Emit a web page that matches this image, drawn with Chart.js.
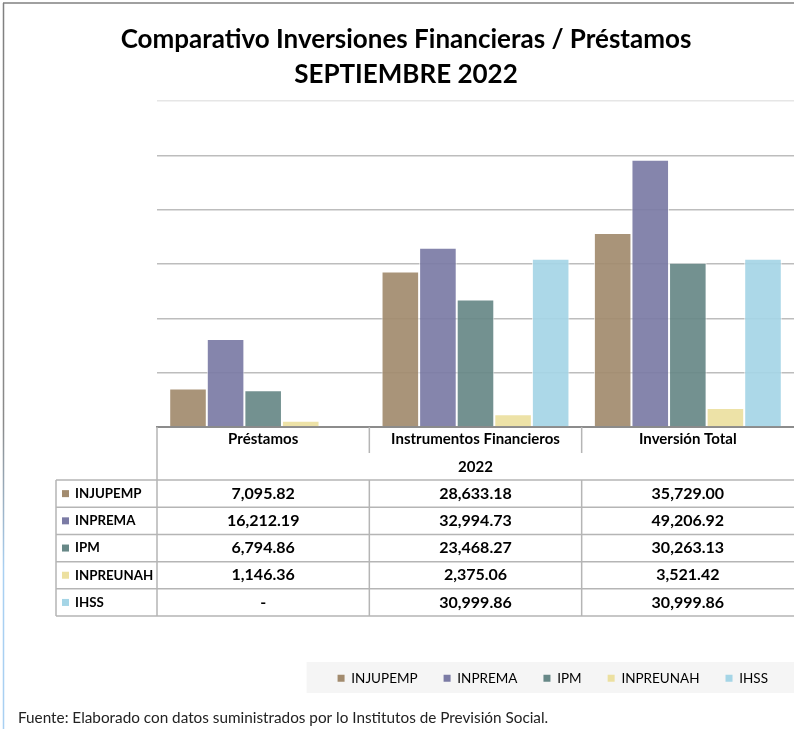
<!DOCTYPE html>
<html><head><meta charset="utf-8">
<script src="https://cdn.jsdelivr.net/npm/chart.js@4/dist/chart.umd.min.js"></script>
<style>html,body{margin:0;padding:0;background:#fff}canvas{display:block}</style>
</head><body>
<canvas id="c" width="794" height="729"></canvas>
<script>
const categories = ['Préstamos', 'Instrumentos Financieros', 'Inversión Total'];
const yearLabel = '2022';
const seriesNames = ['INJUPEMP', 'INPREMA', 'IPM', 'INPREUNAH', 'IHSS'];
const injupemp = [7095.82, 28633.18, 35729.00];
const inprema = [16212.19, 32994.73, 49206.92];
const ipm = [6794.86, 23468.27, 30263.13];
const inpreunah = [1146.36, 2375.06, 3521.42];
const ihss = [null, 30999.86, 30999.86];
const seriesValues = [injupemp, inprema, ipm, inpreunah, ihss];
const seriesColors = ['#a28b6e', '#7b7ba5', '#678887', '#ece0a0', '#a5d5e6'];
const titleLines = ['Comparativo Inversiones Financieras / Préstamos', 'SEPTIEMBRE 2022'];
const sourceNote = 'Fuente: Elaborado con datos suministrados por lo Institutos de Previsión Social.';
const yMax = 60000, yStep = 10000;

const FONT = "Lato, 'DejaVu Sans Condensed', sans-serif";
const FONT_REG = "Lato, 'Noto Sans', sans-serif";

function alpha(hex, a) {
  const n = parseInt(hex.slice(1), 16);
  return `rgba(${n >> 16},${(n >> 8) & 255},${n & 255},${a})`;
}
function fmt(v) {
  if (v === null || v === undefined) return '-';
  return v.toLocaleString('en-US', {minimumFractionDigits: 2, maximumFractionDigits: 2});
}

const framePlugin = {
  id: 'frame',
  beforeDraw(chart) {
    const {ctx, width, height} = chart;
    ctx.save();
    ctx.fillStyle = '#fff';
    ctx.fillRect(0, 0, width, height);
    ctx.strokeStyle = '#808080';
    ctx.lineWidth = 1.5;
    ctx.beginPath(); ctx.moveTo(3, 3); ctx.lineTo(width, 3); ctx.stroke();
    const g = ctx.createLinearGradient(0, 0, 0, height);
    g.addColorStop(0, '#808080');
    g.addColorStop(0.58, '#8a8a8a');
    g.addColorStop(0.78, '#a9d0f2');
    g.addColorStop(1, '#a9d0f2');
    ctx.strokeStyle = g;
    ctx.beginPath(); ctx.moveTo(3.5, 3); ctx.lineTo(3.5, height); ctx.stroke();
    const lg = chart.legend;
    if (lg && lg.legendHitBoxes && lg.legendHitBoxes.length) {
      const l = lg.legendHitBoxes[0].left - 31;
      ctx.fillStyle = '#f5f5f5';
      ctx.fillRect(l, lg.bottom - 33, width - l, 31);
    }
    ctx.restore();
  }
};

const tablePlugin = {
  id: 'dataTable',
  afterDraw(chart) {
    const {ctx, chartArea, scales: {x}} = chart;
    const top = chartArea.bottom;
    const headerH = 26;
    const rowsTop = top + 53;
    const rowH = 27.2;
    const leftCol = 56;
    const right = chart.width;
    const n = categories.length;
    const step = x.getPixelForValue(1) - x.getPixelForValue(0);
    const bounds = [];
    for (let i = 0; i <= n; i++) bounds.push(x.getPixelForValue(0) - step / 2 + i * step);
    const bottom = rowsTop + seriesNames.length * rowH;
    ctx.save();
    ctx.strokeStyle = '#b5b5b5';
    ctx.lineWidth = 1.5;
    ctx.beginPath();
    ctx.moveTo(bounds[0], top); ctx.lineTo(bounds[0], bottom);
    for (let i = 1; i < n; i++) {
      ctx.moveTo(bounds[i], top); ctx.lineTo(bounds[i], top + headerH);
      ctx.moveTo(bounds[i], rowsTop); ctx.lineTo(bounds[i], bottom);
    }
    ctx.moveTo(leftCol, rowsTop); ctx.lineTo(leftCol, bottom);
    for (let k = 0; k <= seriesNames.length; k++) {
      const yy = rowsTop + k * rowH;
      ctx.moveTo(leftCol, yy); ctx.lineTo(right, yy);
    }
    ctx.stroke();
    ctx.fillStyle = '#000';
    ctx.textAlign = 'center';
    ctx.textBaseline = 'middle';
    ctx.font = `bold 15px ${FONT}`;
    ctx.fillText(yearLabel, (bounds[0] + bounds[n]) / 2, top + 40);
    seriesNames.forEach((name, s) => {
      const cy = rowsTop + s * rowH + rowH / 2;
      ctx.fillStyle = seriesColors[s];
      ctx.fillRect(leftCol + 6, cy - 3.5, 7, 7);
      ctx.fillStyle = '#000';
      ctx.textAlign = 'left';
      ctx.font = `bold 13.3px ${FONT}`;
      ctx.fillText(name, leftCol + 19, cy);
      ctx.textAlign = 'center';
      ctx.font = `bold 16px ${FONT}`;
      seriesValues[s].forEach((v, i) => {
        ctx.fillText(fmt(v), x.getPixelForValue(i), cy);
      });
    });
    ctx.restore();
  }
};

const datasets = seriesNames.map((name, s) => ({
  label: name,
  data: seriesValues[s],
  backgroundColor: alpha(seriesColors[s], 0.92),
  borderColor: 'rgba(255,255,255,0.75)',
  borderWidth: 1,
  categoryPercentage: 0.885,
  barPercentage: 1.0
}));

new Chart(document.getElementById('c'), {
  type: 'bar',
  data: {labels: categories, datasets},
  plugins: [framePlugin, tablePlugin],
  options: {
    responsive: false,
    animation: false,
    layout: {padding: {left: 18, right: 0, top: 4, bottom: 2}},
    scales: {
      x: {
        grid: {display: true, drawOnChartArea: false, drawTicks: false},
        border: {display: true, color: '#8c8c8c', width: 2},
        ticks: {color: '#000', font: {family: FONT, size: 15, weight: 'bold'}, padding: 3.5, maxRotation: 0, autoSkip: false},
        afterFit(scale) { scale.height = 218.5; }
      },
      y: {
        min: 0, max: yMax,
        ticks: {display: false, stepSize: yStep},
        grid: {
          drawTicks: false,
          lineWidth: 1.5,
          color: (c) => (c.tick && c.tick.value === yMax) ? '#e6e6e6' : '#bdbdbd'
        },
        border: {display: false},
        afterFit(scale) { scale.width = 139; }
      }
    },
    plugins: {
      title: {
        display: true,
        text: titleLines,
        color: '#000',
        font: {family: FONT, size: 26, weight: 'bold', lineHeight: 1.346},
        padding: {top: 18.5, bottom: 8.7}
      },
      subtitle: {
        display: true,
        position: 'bottom',
        align: 'start',
        text: sourceNote,
        color: '#222',
        font: {family: FONT_REG, size: 15.3, weight: 'normal', lineHeight: 1.2},
        padding: {top: 13.6, bottom: 0}
      },
      legend: {
        position: 'bottom',
        align: 'end',
        labels: {
          color: '#333',
          font: {family: FONT_REG, size: 13.5},
          boxWidth: 7,
          boxHeight: 7,
          padding: 26,
          generateLabels(chart) {
            return chart.data.datasets.map((d, i) => ({
              text: d.label,
              fillStyle: seriesColors[i],
              strokeStyle: seriesColors[i],
              lineWidth: 0,
              datasetIndex: i,
              hidden: false
            }));
          }
        }
      },
      tooltip: {enabled: false}
    }
  }
});
</script>
</body></html>
